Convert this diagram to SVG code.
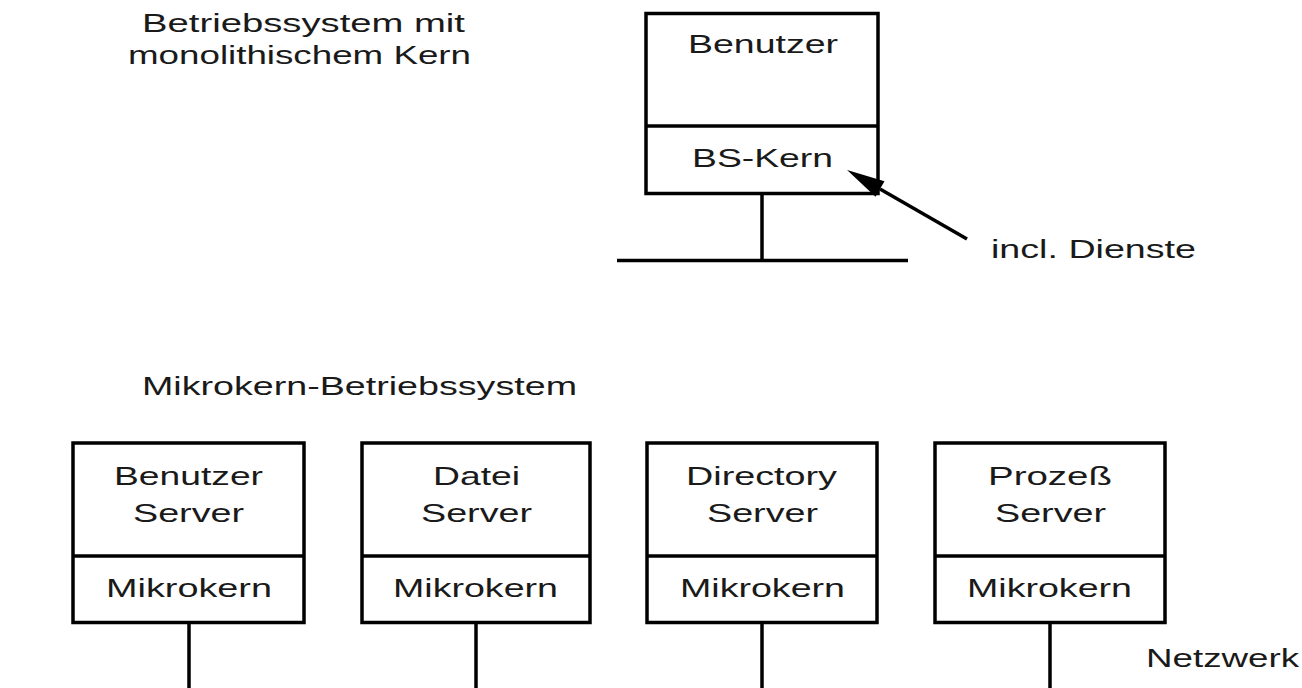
<svg xmlns="http://www.w3.org/2000/svg" width="1302" height="688" viewBox="0 0 1302 688">
<defs>
<style>
.t{font-family:"Liberation Sans",Arial,sans-serif;font-size:26px;fill:#1a1a1a}
.b{fill:#fff;stroke:#000;stroke-width:3.5}
.l{stroke:#000;stroke-width:3.5;fill:none}
</style>
<marker id="ah" markerUnits="userSpaceOnUse" markerWidth="50" markerHeight="30" refX="0" refY="9" orient="auto" overflow="visible">
<path d="M0,0 L38,9 L0,18 z" fill="#000"/>
</marker>
</defs>
<rect width="1302" height="688" fill="#fff"/>

<g id="title-mono">
<text class="t" x="142" y="32" textLength="323" lengthAdjust="spacingAndGlyphs">Betriebssystem mit</text>
<text class="t" x="128" y="64" textLength="343" lengthAdjust="spacingAndGlyphs">monolithischem Kern</text>
</g>

<g id="title-micro">
<text class="t" x="142" y="395" textLength="435" lengthAdjust="spacingAndGlyphs">Mikrokern-Betriebssystem</text>
</g>

<g id="mono-node">
<rect class="b" x="646" y="13.5" width="232" height="180"/>
<line class="l" x1="646" y1="126" x2="878" y2="126"/>
<text class="t" x="688" y="53" textLength="150" lengthAdjust="spacingAndGlyphs">Benutzer</text>
<text class="t" x="692" y="167" textLength="141" lengthAdjust="spacingAndGlyphs">BS-Kern</text>
</g>

<g id="label-dienste">
<text class="t" x="991" y="258" textLength="205" lengthAdjust="spacingAndGlyphs">incl. Dienste</text>
</g>

<g id="node-benutzer">
<rect class="b" x="73" y="443" width="231" height="179.5"/>
<line class="l" x1="73" y1="556" x2="304" y2="556"/>
<text class="t" x="114" y="485" textLength="149" lengthAdjust="spacingAndGlyphs">Benutzer</text>
<text class="t" x="133" y="522" textLength="111" lengthAdjust="spacingAndGlyphs">Server</text>
<text class="t" x="106" y="597" textLength="166" lengthAdjust="spacingAndGlyphs">Mikrokern</text>
</g>

<g id="node-datei">
<rect class="b" x="362" y="443" width="228" height="179.5"/>
<line class="l" x1="362" y1="556" x2="590" y2="556"/>
<text class="t" x="433" y="485" textLength="87" lengthAdjust="spacingAndGlyphs">Datei</text>
<text class="t" x="421" y="522" textLength="111" lengthAdjust="spacingAndGlyphs">Server</text>
<text class="t" x="393" y="597" textLength="165" lengthAdjust="spacingAndGlyphs">Mikrokern</text>
</g>

<g id="node-directory">
<rect class="b" x="647" y="443" width="230" height="179.5"/>
<line class="l" x1="647" y1="556" x2="877" y2="556"/>
<text class="t" x="686" y="485" textLength="151" lengthAdjust="spacingAndGlyphs">Directory</text>
<text class="t" x="707" y="522" textLength="111" lengthAdjust="spacingAndGlyphs">Server</text>
<text class="t" x="680" y="597" textLength="165" lengthAdjust="spacingAndGlyphs">Mikrokern</text>
</g>

<g id="node-prozess">
<rect class="b" x="935" y="443" width="230" height="179.5"/>
<line class="l" x1="935" y1="556" x2="1165" y2="556"/>
<text class="t" x="988" y="485" textLength="124" lengthAdjust="spacingAndGlyphs">Prozeß</text>
<text class="t" x="995" y="522" textLength="111" lengthAdjust="spacingAndGlyphs">Server</text>
<text class="t" x="967" y="597" textLength="165" lengthAdjust="spacingAndGlyphs">Mikrokern</text>
</g>

<g id="label-netzwerk">
<text class="t" x="1146" y="667" textLength="153" lengthAdjust="spacingAndGlyphs">Netzwerk</text>
</g>

<g id="connectors">
<line class="l" x1="762" y1="193.5" x2="762" y2="260.5"/>
<line class="l" x1="617" y1="260.5" x2="908" y2="260.5"/>
<line class="l" x1="967" y1="239" x2="880" y2="189" marker-end="url(#ah)"/>
<line class="l" x1="189" y1="622.5" x2="189" y2="688"/>
<line class="l" x1="476" y1="622.5" x2="476" y2="688"/>
<line class="l" x1="762" y1="622.5" x2="762" y2="688"/>
<line class="l" x1="1050" y1="622.5" x2="1050" y2="688"/>
</g>
</svg>
